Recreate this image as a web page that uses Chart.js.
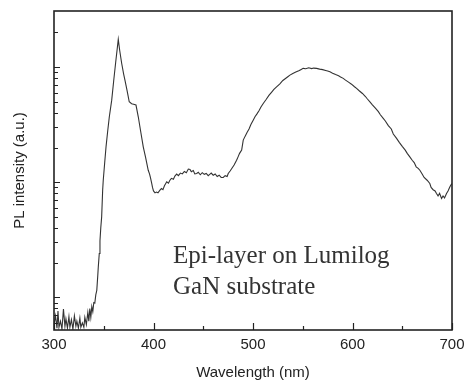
<!DOCTYPE html>
<html>
<head>
<meta charset="utf-8">
<script src="https://cdn.jsdelivr.net/npm/chart.js@4/dist/chart.umd.min.js"></script>
<style>
  html, body { margin: 0; padding: 0; background: #fff; }
  #wrap { width: 471px; height: 381px; }
</style>
</head>
<body>
<div id="wrap"><canvas id="plChart"></canvas></div>
<script>
// wavelength (nm) and PL intensity (a.u., log scale)
const wavelength = [
    300, 301.5, 303, 304, 305, 306.5, 308, 309.5, 311, 312, 313.5, 315, 316, 317.5, 319, 320.5,
    322, 323, 324.5, 326, 327, 328.5, 330, 331, 332.5, 334, 335, 336, 337, 338, 339, 340,
    341, 342, 343, 344, 344.5, 345.5, 346.2, 347, 347.9, 348.9, 349.5, 351, 352.3, 354, 355.6, 358,
    360, 362, 364.6, 366, 368, 370, 371.3, 373.5, 375.6, 378, 380, 382.4, 384.7, 387, 389.7, 392,
    394.7, 396, 397, 398.2, 399, 400, 401.5, 403, 404.5, 406.5, 408, 409.5, 411, 413.3, 415, 416.5,
    418, 420, 421.5, 423.3, 425, 427, 429, 431, 433, 435, 436.7, 438, 440, 441.5, 443.4, 445,
    447, 449, 451, 453, 455, 456.8, 458, 460, 462, 464, 466, 468, 470.1, 472, 474, 475.1,
    477, 479, 481, 483.5, 485, 486.5, 488.6, 490.2, 492, 494, 496, 498, 500.2, 502, 504, 506,
    508, 510.3, 513, 516, 519, 521, 523.7, 527, 530, 533, 535, 537.1, 540, 543, 546, 548,
    550.4, 553, 556, 559, 561, 563.9, 567, 570, 573, 575, 577.3, 580, 583, 586, 588, 590.7,
    593, 596, 599, 602, 604.1, 607, 610, 613, 615, 617.5, 620, 623, 626, 628, 630.9, 633,
    636, 639, 641, 644.3, 647, 650, 653, 655, 657.6, 660, 662, 664, 666, 667.7, 670, 672,
    675, 677.7, 679, 681, 683, 684.4, 686, 687.5, 689.5, 691, 692.5, 694.5, 696, 697.8, 699, 700
];
const intensity = [
    5.8, 6.9, 5.4, 7.6, 5.5, 6.2, 5.3, 7.9, 5.6, 6.5, 5.4, 6.8, 5.5, 6.4, 5.3, 6.9,
    5.6, 6.2, 5.4, 6.6, 5.5, 6.0, 5.5, 6.7, 5.8, 7.4, 6.2, 8.0, 6.7, 8.3, 7.5, 9.0,
    8.9, 10.5, 11.5, 15.5, 18.3, 24, 31, 40, 50, 85, 104, 150, 203, 280, 370, 516,
    760, 1100, 1740, 1400, 1080, 870, 770, 620, 500, 480, 475, 468, 370, 280, 203, 165,
    127, 118, 109, 97.5, 90, 84, 80.7, 82, 81, 85.2, 88, 86, 93, 100.7, 98, 104,
    108, 106, 113, 117.5, 114, 120, 118, 124, 121, 130, 129, 123, 126, 118, 119, 122,
    116, 121, 117, 119, 114, 117.5, 120, 115, 118, 112, 115, 110, 110, 114, 112, 119,
    125, 133, 141, 155, 166, 178, 190, 232, 250, 270, 290, 318, 346, 370, 392, 418,
    450, 483, 520, 568, 610, 640, 674, 715, 765, 800, 825, 851, 880, 905, 930, 950,
    975, 968, 985, 970, 980, 975, 960, 950, 935, 925, 910, 885, 860, 840, 820, 798,
    770, 740, 710, 675, 653, 620, 590, 555, 528, 499, 470, 440, 410, 385, 358, 340,
    310, 290, 262, 240, 222, 205, 190, 178, 166, 155, 148, 136, 132, 127, 118, 110,
    104, 97.5, 90, 86, 84, 79.8, 76, 80, 72.1, 76, 73, 79.8, 84, 91, 95, 97
];

const xMajorTicks = [300, 400, 500, 600, 700];
const xMinorTicks = [350, 450, 550, 650];
const yMajorTicks = [10, 100, 1000];
const yMinorTicks = [6, 7, 8, 9, 20, 30, 40, 50, 60, 70, 80, 90, 200, 300, 400, 500, 600, 700, 800, 900, 2000];

const noteLines = ['Epi-layer on Lumilog', 'GaN substrate'];

// frame + inward ticks, like the original plot
const frameTicks = {
    id: 'frameTicks',
    afterDraw(chart) {
        const { ctx, chartArea: a, scales: { x, y } } = chart;
        ctx.save();
        ctx.strokeStyle = '#222';
        ctx.lineWidth = 1.2;
        ctx.beginPath();
        xMajorTicks.forEach(v => {
            const px = Math.round(x.getPixelForValue(v)) + 0.5;
            ctx.moveTo(px, a.bottom); ctx.lineTo(px, a.bottom - 7);
        });
        xMinorTicks.forEach(v => {
            const px = Math.round(x.getPixelForValue(v)) + 0.5;
            ctx.moveTo(px, a.bottom); ctx.lineTo(px, a.bottom - 4);
        });
        yMajorTicks.forEach(v => {
            const py = Math.round(y.getPixelForValue(v)) + 0.5;
            ctx.moveTo(a.left, py); ctx.lineTo(a.left + 6, py);
        });
        yMinorTicks.forEach(v => {
            const py = Math.round(y.getPixelForValue(v)) + 0.5;
            ctx.moveTo(a.left, py); ctx.lineTo(a.left + 4, py);
        });
        ctx.stroke();

        ctx.lineWidth = 1.6;
        ctx.strokeRect(a.left, a.top, a.right - a.left, a.bottom - a.top);

        ctx.fillStyle = '#333';
        ctx.font = '25px "Liberation Serif", "Times New Roman", serif';
        ctx.textBaseline = 'alphabetic';
        ctx.fillText(noteLines[0], 173, 263);
        ctx.fillText(noteLines[1], 173, 294);
        ctx.restore();
    }
};

const data = {
    labels: wavelength,
    datasets: [{
        label: 'PL',
        data: wavelength.map((w, i) => ({ x: w, y: intensity[i] })),
        borderColor: '#333',
        borderWidth: 1.1,
        pointRadius: 0,
        tension: 0,
        fill: false,
    }]
};

const axisFont = { family: '"Liberation Sans", Arial, sans-serif', size: 15 };

const config = {
    type: 'line',
    data,
    plugins: [frameTicks],
    options: {
        responsive: false,
        animation: false,
        layout: { padding: { top: 11, right: 19, bottom: 0, left: 0 } },
        plugins: { legend: { display: false }, tooltip: { enabled: false } },
        scales: {
            x: {
                type: 'linear',
                min: 300,
                max: 700,
                grid: { display: false, drawTicks: false },
                border: { display: false },
                ticks: { stepSize: 100, padding: 6, color: '#222', font: axisFont, maxRotation: 0 },
                title: { display: true, text: 'Wavelength (nm)', color: '#222', font: axisFont, padding: { top: 0, bottom: -1 } },
                afterFit: s => { s.height = 51; }
            },
            y: {
                type: 'logarithmic',
                min: 5.2,
                max: 3070,
                grid: { display: false, drawTicks: false },
                border: { display: false },
                ticks: { display: false },
                title: { display: true, text: 'PL intensity (a.u.)', color: '#222', font: axisFont, padding: { top: 11, bottom: 0 } },
                afterFit: s => { s.width = 54; }
            }
        }
    }
};

const canvas = document.getElementById('plChart');
canvas.width = 471;
canvas.height = 381;
const plChart = new Chart(canvas, config);
</script>
</body>
</html>
